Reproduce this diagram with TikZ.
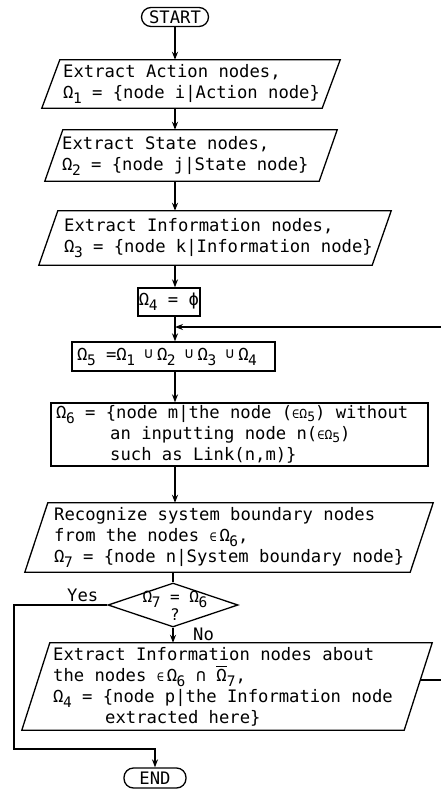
\documentclass[tikz,border=0pt]{standalone}
\usepackage{fontspec}
\setmainfont{DejaVu Sans Mono}
\usetikzlibrary{shapes.geometric,arrows.meta,calc}
\newcommand\Om[1]{Ω\kern-0.5pt\raisebox{-5pt}{\fontsize{14.5}{14.5}\selectfont #1}}
\newcommand\sOm[1]{{\fontsize{13}{13}\selectfont Ω\raisebox{-3pt}{#1}}}
\newcommand\smel{{\fontsize{12}{12}\selectfont ∈}}
\newcommand\smcup{\raisebox{1.5pt}{\fontsize{15}{15}\selectfont ∪}}
\newcommand\ovlOm{\leavevmode\vbox{\hrule height 1pt\kern1.5pt\hbox{Ω}}}
\newcommand\parashape[2]{\draw[line] ($(#1.north west)+(#2,0)$) -- (#1.north east) -- ($(#1.south east)-(#2,0)$) -- (#1.south west) -- cycle;}
\tikzset{
  every node/.style={font=\fontsize{17.2}{21}\selectfont, inner sep=0pt},
  line/.style={line width=1.3pt},
  arr/.style={line width=1.3pt, -{Stealth[length=8pt,width=6pt]}},
  frame/.style={rectangle, minimum width=#1},
  txt/.style={align=left, anchor=west},
  boxd/.style={draw, line width=1.3pt, rectangle},
  term/.style={draw, line width=1.3pt, rectangle, rounded corners=9.5pt},
}
\begin{document}
\begin{tikzpicture}[x=1pt,y=-1pt]
\useasboundingbox (0,0) rectangle (441,794);
\coordinate (spine) at (175,0);
% START
\node[term, minimum width=67pt, minimum height=19pt] (start) at (175,17) {START};
% box 1
\node[frame=298pt, minimum height=48pt] (b1) at (191,84) {};
\parashape{b1}{18}
\node[txt] (t1) at (63,84) {Extract Action nodes,\\\Om{1} = \{node i|Action node\}};
% box 2
\node[frame=292pt, minimum height=51pt] (b2) at (191,155.5) {};
\parashape{b2}{18}
\node[txt] (t2) at (62,155.5) {Extract State nodes,\\\Om{2} = \{node j|State node\}};
% box 3
\node[frame=352pt, minimum height=54pt] (b3) at (215,238) {};
\parashape{b3}{19}
\node[txt] (t3) at (64,238) {Extract Information nodes,\\\Om{3} = \{node k|Information node\}};
% omega 4
\node[boxd, minimum width=62pt, minimum height=28pt] (o4) at (169,302) {\Om{4} = ϕ};
% omega 5
\node[boxd, minimum width=203pt, minimum height=29pt] (o5) at (173.5,356.5) {};
\node[anchor=west] (t5) at (77,356.5) {\Om{5} =\Om{1}\hspace{9pt}\smcup\hspace{4pt}\Om{2}\hspace{9pt}\smcup\hspace{4pt}\Om{3}\hspace{9pt}\smcup\hspace{4pt}\Om{4}};
% omega 6
\node[boxd, minimum width=377pt, minimum height=63pt] (o6) at (239.5,434.5) {};
\node[txt] (t6) at (56,434.5) {\Om{6} = \{node m|the node (\smel\sOm{5}) without\\\hspace*{54pt}an inputting node n(\smel\sOm{5})\\\hspace*{54pt}such as Link(n,m)\}};
% box 7
\node[frame=408pt, minimum height=69pt] (b7) at (229,537.5) {};
\parashape{b7}{23}
\node[txt] (t7) at (54,537.5) {Recognize system boundary nodes\\from the nodes \smel\,\Om{6},\\\Om{7} = \{node n|System boundary node\}};
% diamond
\node[draw, line width=1.3pt, diamond, minimum width=130pt, minimum height=44pt] (dia) at (173,605) {};
\node[align=center, font=\fontsize{16}{17}\selectfont] (dl) at (175,606) {\Om{7} = \Om{6}\\?};
% box 8
\node[frame=410pt, minimum height=87pt] (b8) at (227,686.5) {};
\parashape{b8}{28}
\node[txt] (t8) at (53,686.5) {Extract Information nodes about\\the nodes \smel\,\Om{6} ∩ \ovlOm\raisebox{-5pt}{\fontsize{14.5}{14.5}\selectfont 7},\\\Om{4} = \{node p|the Information node\\\hspace*{52pt}extracted here\}};
% END
\node[term, minimum width=62pt, minimum height=20pt] (endn) at (155,778) {END};
% labels
\node[anchor=base west] (yes) at (67,601) {Yes};
\node[anchor=base west] (no) at (193,640) {No};
% connectors
\draw[arr] (start.south) -- (b1.north -| spine);
\draw[arr] (b1.south -| spine) -- (b2.north -| spine);
\draw[arr] (b2.south -| spine) -- (b3.north -| spine);
\draw[arr] (b3.south -| spine) -- (o4.north -| spine);
\draw[arr] (o4.south -| spine) -- (o5.north -| spine);
\draw[arr] (o5.south -| spine) -- (o6.north -| spine);
\draw[arr] (o6.south -| spine) -- (b7.north -| spine);
\draw[line] (b7.south -| dia.north) -- (dia.north);
\draw[arr] (dia.south) -- (b8.north -| dia.south);
\coordinate (merge) at (175,327);
\coordinate (yesc) at (14,749);
\coordinate (b8out) at (420,680);
\coordinate (rt) at (444,327);
\draw[arr] (dia.west) -| (yesc) -| (endn.north);
\draw[arr] (b8out) -| (rt) -- (merge);
\end{tikzpicture}
\end{document}
